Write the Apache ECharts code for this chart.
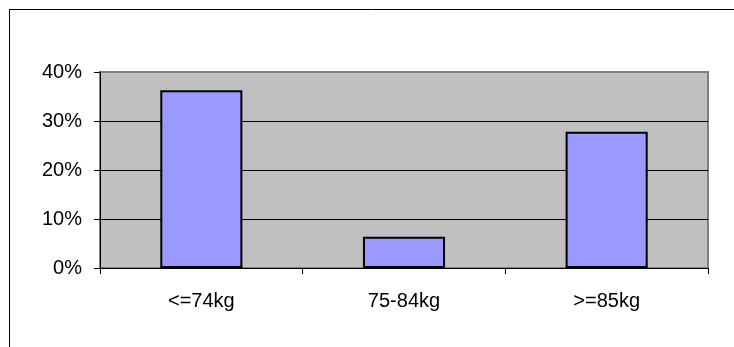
<!DOCTYPE html>
<html>
<head>
<meta charset="utf-8">
<script src="https://cdn.jsdelivr.net/npm/echarts@6/dist/echarts.min.js"></script>
<style>
  html, body { margin: 0; padding: 0; background: #fff; }
  #chart { width: 734px; height: 347px; }
</style>
</head>
<body>
<div id="chart"></div>
<script>
// Weight groups and their share of the total
const categories = ['<=74kg', '75-84kg', '>=85kg'];
const shares = [0.363, 0.064, 0.278];

const FONT = 'Liberation Sans, Arial, sans-serif';

const chart = echarts.init(document.getElementById('chart'), null, { renderer: 'canvas' });

chart.setOption({
  animation: false,
  backgroundColor: '#ffffff',
  grid: {
    left: 100,
    top: 72,
    right: 26,
    bottom: 79,
    show: true,
    backgroundColor: '#c0c0c0',
    borderColor: '#808080',
    borderWidth: 2
  },
  // frame lines along the top and left of the chart area
  graphic: [
    { type: 'line', shape: { x1: 9, y1: 9.5, x2: 734, y2: 9.5 }, style: { stroke: '#000', lineWidth: 1 } },
    { type: 'line', shape: { x1: 9.5, y1: 9, x2: 9.5, y2: 347 }, style: { stroke: '#000', lineWidth: 1 } }
  ],
  xAxis: {
    type: 'category',
    data: categories,
    boundaryGap: true,
    axisLine: { lineStyle: { color: '#000', width: 1 } },
    axisTick: { show: true, alignWithLabel: false, length: 6, lineStyle: { color: '#000' } },
    axisLabel: { color: '#000', fontFamily: FONT, fontSize: 20, margin: 23 },
    splitLine: { show: false }
  },
  yAxis: {
    type: 'value',
    min: 0,
    max: 0.4,
    interval: 0.1,
    axisLine: { show: true, lineStyle: { color: '#000', width: 1 } },
    axisTick: { show: true, length: 6, lineStyle: { color: '#000' } },
    axisLabel: {
      color: '#000', fontFamily: FONT, fontSize: 20, margin: 18,
      formatter: v => Math.round(v * 100) + '%'
    },
    // the topmost line coincides with the grey plot border
    splitLine: { show: true, lineStyle: { color: ['#000', '#000', '#000', '#000', '#808080'], width: 1 } }
  },
  series: [{
    type: 'bar',
    data: shares,
    barWidth: '40.5%',
    itemStyle: { color: '#9999ff', borderColor: '#000', borderWidth: 2 }
  }]
});
</script>
</body>
</html>
